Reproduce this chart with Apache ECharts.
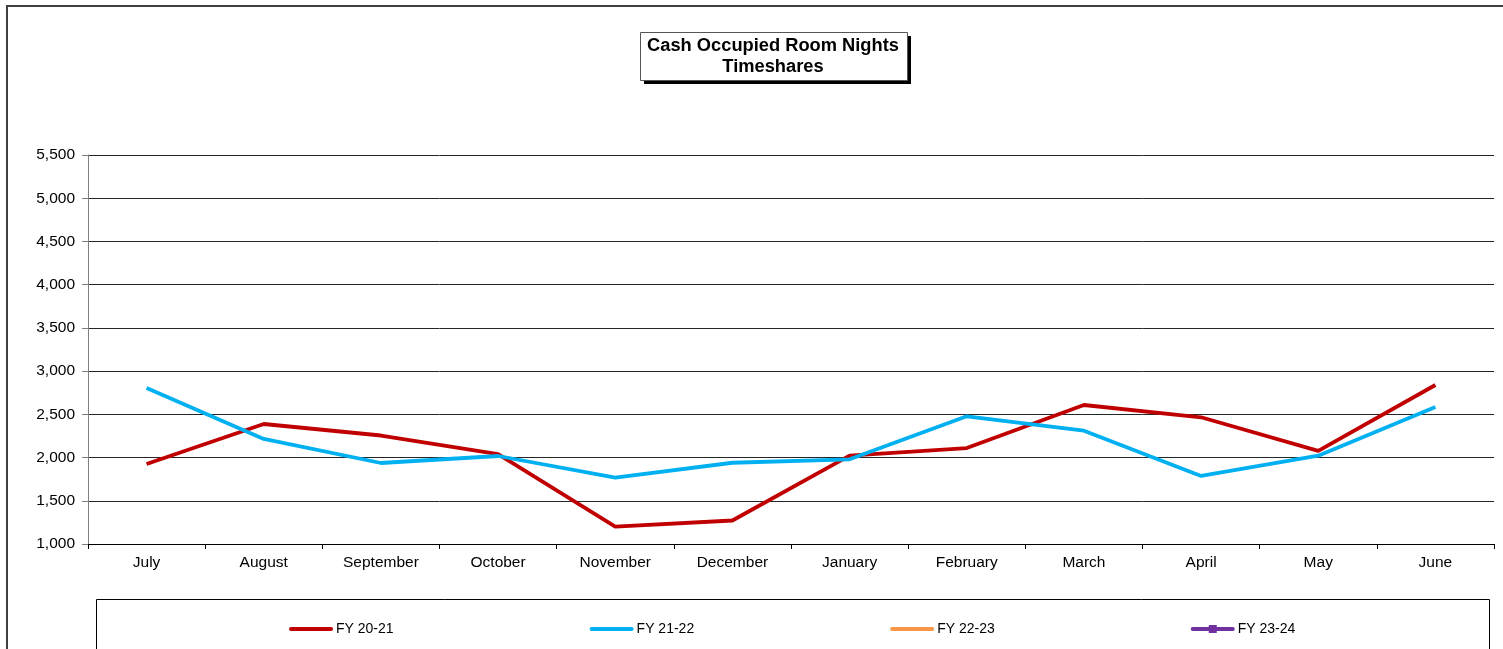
<!DOCTYPE html>
<html>
<head>
<meta charset="utf-8">
<script src="https://cdn.jsdelivr.net/npm/echarts@6/dist/echarts.min.js"></script>
<style>
    html, body { margin: 0; padding: 0; background: #fff; }
    #chart { width: 1503px; height: 649px; }
</style>
</head>
<body>
<div id="chart"></div>
<script>
    // values
    var months = ['July', 'August', 'September', 'October', 'November', 'December',
        'January', 'February', 'March', 'April', 'May', 'June'];
    var fy2021 = [1925, 2388, 2255, 2041, 1200, 1272, 2022, 2110, 2608, 2466, 2078, 2839];
    var fy2122 = [2804, 2215, 1937, 2018, 1767, 1940, 1980, 2477, 2311, 1787, 2021, 2585];
    var fy2223 = [];
    var fy2324 = [];
    var yTicks = { min: 1000, max: 5500, step: 500 };

    var font = 'Arial, "Liberation Sans", sans-serif';
    var noDot = { color: 'transparent', borderColor: 'transparent', borderWidth: 0 };
    var chart = echarts.init(document.getElementById('chart'));

    var option = {
        backgroundColor: '#fff',
        animation: false,
        title: {
            text: 'Cash Occupied Room Nights\nTimeshares',
            left: 773,
            top: 35,
            textAlign: 'center',
            padding: 0,
            textStyle: {
                fontFamily: font,
                fontSize: 18.3,
                fontWeight: 'bold',
                color: '#000',
                lineHeight: 21
            }
        },
        graphic: [
            // outer frame
            {
                type: 'rect',
                silent: true,
                shape: { x: 7, y: 6, width: 1600, height: 800 },
                style: { fill: null, stroke: '#404040', lineWidth: 2 }
            },
            // title box with its drop shadow
            {
                type: 'rect',
                silent: true,
                shape: { x: 644, y: 36, width: 267, height: 48 },
                style: { fill: '#000' }
            },
            {
                type: 'rect',
                silent: true,
                shape: { x: 640.5, y: 32.5, width: 267, height: 48 },
                style: { fill: '#fff', stroke: '#555', lineWidth: 1 }
            },
            // legend frame
            {
                type: 'rect',
                silent: true,
                shape: { x: 96.5, y: 599.5, width: 1393, height: 100 },
                style: { fill: null, stroke: '#000', lineWidth: 1 }
            }
        ],
        legend: {
            left: 284,
            top: 617,
            itemWidth: 40,
            itemHeight: 10,
            itemGap: 196,
            lineStyle: { width: 4, cap: 'round' },
            textStyle: { fontFamily: font, fontSize: 14, color: '#000' },
            data: [
                { name: 'FY 20-21', itemStyle: noDot },
                { name: 'FY 21-22', itemStyle: noDot },
                { name: 'FY 22-23', itemStyle: noDot },
                { name: 'FY 23-24' }
            ]
        },
        grid: {
            left: 88,
            right: 9,
            top: 155,
            bottom: 105
        },
        xAxis: {
            type: 'category',
            data: months,
            boundaryGap: true,
            axisLine: { lineStyle: { color: '#000', width: 1 } },
            axisTick: { show: true, length: 5, lineStyle: { color: '#000' } },
            axisLabel: { fontFamily: font, fontSize: 15.5, color: '#000', margin: 11, interval: 0 }
        },
        yAxis: {
            type: 'value',
            min: yTicks.min,
            max: yTicks.max,
            interval: yTicks.step,
            axisLine: { show: true, lineStyle: { color: '#808080', width: 1 } },
            axisTick: { show: true, length: 6, lineStyle: { color: '#808080' } },
            axisLabel: {
                fontFamily: font, fontSize: 15.5, color: '#000', margin: 13,
                formatter: function (v) { return v.toLocaleString('en-US'); }
            },
            splitLine: { show: true, lineStyle: { color: '#262626', width: 1 } }
        },
        series: [
            {
                name: 'FY 20-21',
                type: 'line',
                data: fy2021,
                symbol: 'none',
                color: '#C00000',
                lineStyle: { color: '#C00000', width: 3.8 }
            },
            {
                name: 'FY 21-22',
                type: 'line',
                data: fy2122,
                symbol: 'none',
                color: '#00B0F0',
                lineStyle: { color: '#00B0F0', width: 3.8 }
            },
            {
                name: 'FY 22-23',
                type: 'line',
                data: fy2223,
                symbol: 'none',
                color: '#F79646',
                lineStyle: { color: '#F79646', width: 3.8 }
            },
            {
                name: 'FY 23-24',
                type: 'line',
                data: fy2324,
                symbol: 'rect',
                symbolSize: 8,
                color: '#7030A0',
                itemStyle: { color: '#7030A0' },
                lineStyle: { color: '#7030A0', width: 3.8 }
            }
        ]
    };

    chart.setOption(option);
</script>
</body>
</html>
